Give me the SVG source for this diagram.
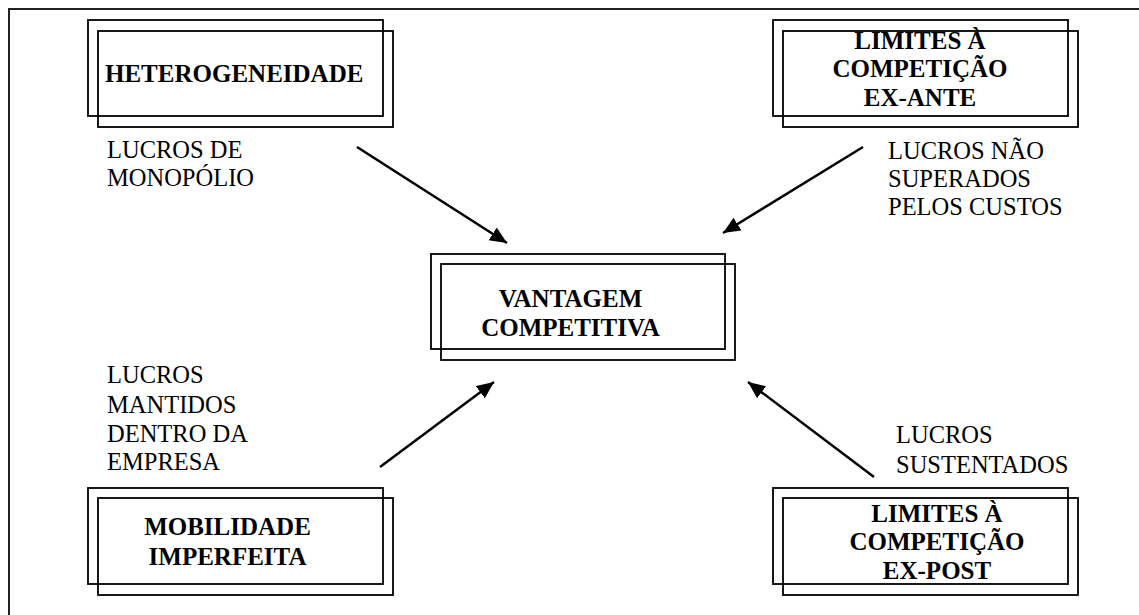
<svg xmlns="http://www.w3.org/2000/svg" width="1139" height="615" viewBox="0 0 1139 615">
  <defs>
    <marker id="ah" markerUnits="userSpaceOnUse" markerWidth="18" markerHeight="16" refX="17" refY="7.5" orient="auto">
      <path d="M0,0 L17,7.5 L0,15 Z" fill="#000"/>
    </marker>
    <style>
      .r { fill: none; stroke: #000; stroke-width: 1.8; }
      .b { font-weight: bold; font-size: 25px; fill: #000; }
      .t { font-size: 24.5px; fill: #000; }
      .m { text-anchor: middle; }
      .c { stroke: #000; stroke-width: 2.5; fill: none; marker-end: url(#ah); }
    </style>
  </defs>
  <rect width="1139" height="615" fill="#fff"/>
  <g id="frame">
    <path d="M9,615 L9,9 L1139,9" fill="none" stroke="#222" stroke-width="2"/>
  </g>

  <g font-family="Liberation Serif, DejaVu Serif, serif">
  <g id="heterogeneidade">
    <rect class="r" x="88" y="20" width="295" height="96"/>
    <rect class="r" x="98" y="31" width="295" height="96"/>
    <text class="b" x="105" y="82">HETEROGENEIDADE</text>
  </g>

  <g id="limites-ex-ante">
    <rect class="r" x="773" y="20" width="295" height="96"/>
    <rect class="r" x="783" y="31" width="295" height="96"/>
    <text class="b m" x="920" y="49">LIMITES À</text>
    <text class="b m" x="920" y="77">COMPETIÇÃO</text>
    <text class="b m" x="920" y="106">EX-ANTE</text>
  </g>

  <g id="vantagem">
    <rect class="r" x="431" y="254" width="294" height="95"/>
    <rect class="r" x="441" y="264" width="294" height="96"/>
    <text class="b m" x="570.5" y="307">VANTAGEM</text>
    <text class="b m" x="570.5" y="336">COMPETITIVA</text>
  </g>

  <g id="mobilidade">
    <rect class="r" x="88" y="488" width="295" height="96"/>
    <rect class="r" x="98" y="498" width="295" height="97"/>
    <text class="b m" x="227.5" y="535">MOBILIDADE</text>
    <text class="b m" x="227.5" y="565">IMPERFEITA</text>
  </g>

  <g id="limites-ex-post">
    <rect class="r" x="773" y="488" width="295" height="96"/>
    <rect class="r" x="783" y="498" width="295" height="97"/>
    <text class="b m" x="937" y="522">LIMITES À</text>
    <text class="b m" x="937" y="550">COMPETIÇÃO</text>
    <text class="b m" x="937" y="579">EX-POST</text>
  </g>

  <g id="labels">
    <text class="t" x="107" y="158">LUCROS DE</text>
    <text class="t" x="107" y="186">MONOPÓLIO</text>
    <text class="t" x="888" y="159">LUCROS NÃO</text>
    <text class="t" x="888" y="187">SUPERADOS</text>
    <text class="t" x="888" y="215">PELOS CUSTOS</text>
    <text class="t" x="107" y="383">LUCROS</text>
    <text class="t" x="107" y="413">MANTIDOS</text>
    <text class="t" x="107" y="442">DENTRO DA</text>
    <text class="t" x="107" y="470">EMPRESA</text>
    <text class="t" x="896" y="443">LUCROS</text>
    <text class="t" x="896" y="473">SUSTENTADOS</text>
  </g>
  </g>

  <g id="connectors">
    <line class="c" x1="357" y1="147" x2="507" y2="243"/>
    <line class="c" x1="863" y1="147" x2="723" y2="233"/>
    <line class="c" x1="380" y1="467" x2="494" y2="382"/>
    <line class="c" x1="874" y1="477" x2="748" y2="382"/>
  </g>
</svg>
